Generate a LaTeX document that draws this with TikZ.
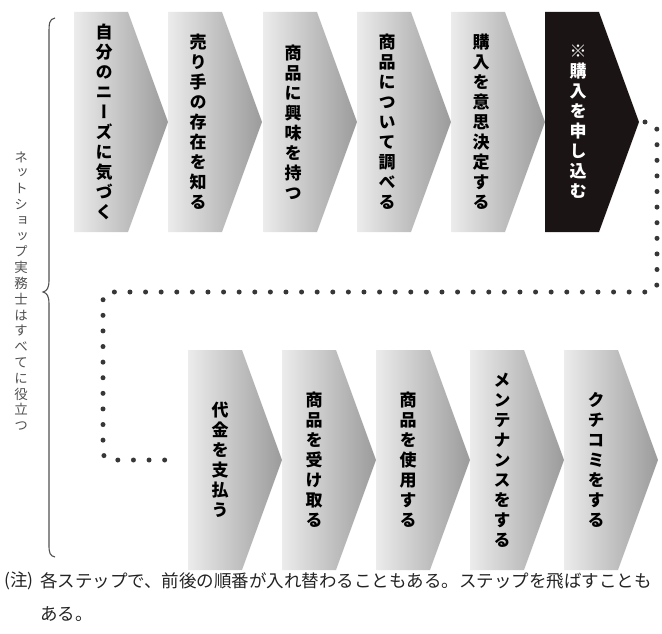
\documentclass[tikz,border=0pt]{standalone}
\usepackage{fontspec}
\newfontfamily\jpv{Noto Sans CJK JP}[RawFeature=+vert]
\newfontfamily\jpn{Noto Sans CJK JP}
\definecolor{chevL}{RGB}{236,236,236}
\definecolor{chevR}{RGB}{155,155,155}
\definecolor{chevK}{RGB}{26,20,20}
\definecolor{dotc}{RGB}{55,55,55}
\definecolor{bracec}{RGB}{80,80,80}
\definecolor{notec}{RGB}{35,35,35}
\begin{document}
\begin{tikzpicture}[x=1pt,y=-1pt,
  gchev/.pic={\path[left color=chevL,right color=chevR] (0,0) -- (54,0) -- (94,110) -- (54,220) -- (0,220) -- cycle;
     \coordinate (-tip) at (94,110); \coordinate (-in) at (0,110);},
  kchev/.pic={\path[fill=chevK] (0,0) -- (54,0) -- (94,110) -- (54,220) -- (0,220) -- cycle;
     \coordinate (-tip) at (94,110); \coordinate (-in) at (0,110);},
  steptext/.style={font=\jpv\bfseries\fontsize{17}{20}\selectfont, align=center, inner sep=0pt, text=black},
  sidetext/.style={font=\jpv\fontsize{13.5}{15.8}\selectfont, align=center, inner sep=0pt, text=bracec},
  notetext/.style={font=\jpn\fontsize{17.5}{20}\selectfont, anchor=west, inner sep=0pt, text=notec},
  dotline/.style={draw=dotc, line width=5pt, line cap=round, dash pattern=on 0pt off 15.6pt, rounded corners=8pt},
  bracestyle/.style={draw=bracec, line width=1.1pt}]
\useasboundingbox (0,0) rectangle (662,634);
% top row
\pic (p1) at (74,12) {gchev};
\pic (p2) at (168,12) {gchev};
\pic (p3) at (263,12) {gchev};
\pic (p4) at (357,12) {gchev};
\pic (p5) at (451,12) {gchev};
\pic (p6) at (545,12) {kchev};
\node[steptext] (t1) at (104,122) {自\\分\\の\\ニ\\ー\\ズ\\に\\気\\づ\\く};
\node[steptext] (t2) at (198,122) {売\\り\\手\\の\\存\\在\\を\\知\\る};
\node[steptext] (t3) at (293,122) {商\\品\\に\\興\\味\\を\\持\\つ};
\node[steptext] (t4) at (387,122) {商\\品\\に\\つ\\い\\て\\調\\べ\\る};
\node[steptext] (t5) at (481,122) {購\\入\\を\\意\\思\\決\\定\\す\\る};
\node[steptext, text=white] (t6) at (578,122) {※\\購\\入\\を\\申\\し\\込\\む};
% bottom row
\pic (q1) at (188,350) {gchev};
\pic (q2) at (282,350) {gchev};
\pic (q3) at (376,350) {gchev};
\pic (q4) at (470,350) {gchev};
\pic (q5) at (564,350) {gchev};
\node[steptext] (u1) at (220,460) {代\\金\\を\\支\\払\\う};
\node[steptext] (u2) at (314,460) {商\\品\\を\\受\\け\\取\\る};
\node[steptext] (u3) at (408,460) {商\\品\\を\\使\\用\\す\\る};
\node[steptext] (u4) at (502,460) {メ\\ン\\テ\\ナ\\ン\\ス\\を\\す\\る};
\node[steptext] (u5) at (596,460) {ク\\チ\\コ\\ミ\\を\\す\\る};
% dotted connector
\coordinate (d1) at (657,122);
\coordinate (d2) at (657,292);
\coordinate (d3) at (103,292);
\coordinate (d4) at (103,460);
\draw[dotline, shorten <=6pt, shorten >=9pt] (p6-tip) -- (d1) -- (d2) -- (d3) -- (d4) -- (q1-in);
% brace
\draw[bracestyle] (55,18) .. controls (49,19) and (49,24) .. (49,34) -- (49,280) .. controls (49,288) and (47,291) .. (43,292) .. controls (47,293) and (49,296) .. (49,304) -- (49,545) .. controls (49,553) and (50,556) .. (55,557);
\node[sidetext] (side) at (21,291) {ネ\\ッ\\ト\\シ\\ョ\\ッ\\プ\\実\\務\\士\\は\\す\\べ\\て\\に\\役\\立\\つ};
% note
\node[notetext] (n0) at (4,581) {(注)};
\node[notetext] (n1) at (40,581) {各ステップで、前後の順番が入れ替わることもある。ステップを飛ばすことも};
\node[notetext] (n2) at (40,614) {ある。};
\end{tikzpicture}
\end{document}
